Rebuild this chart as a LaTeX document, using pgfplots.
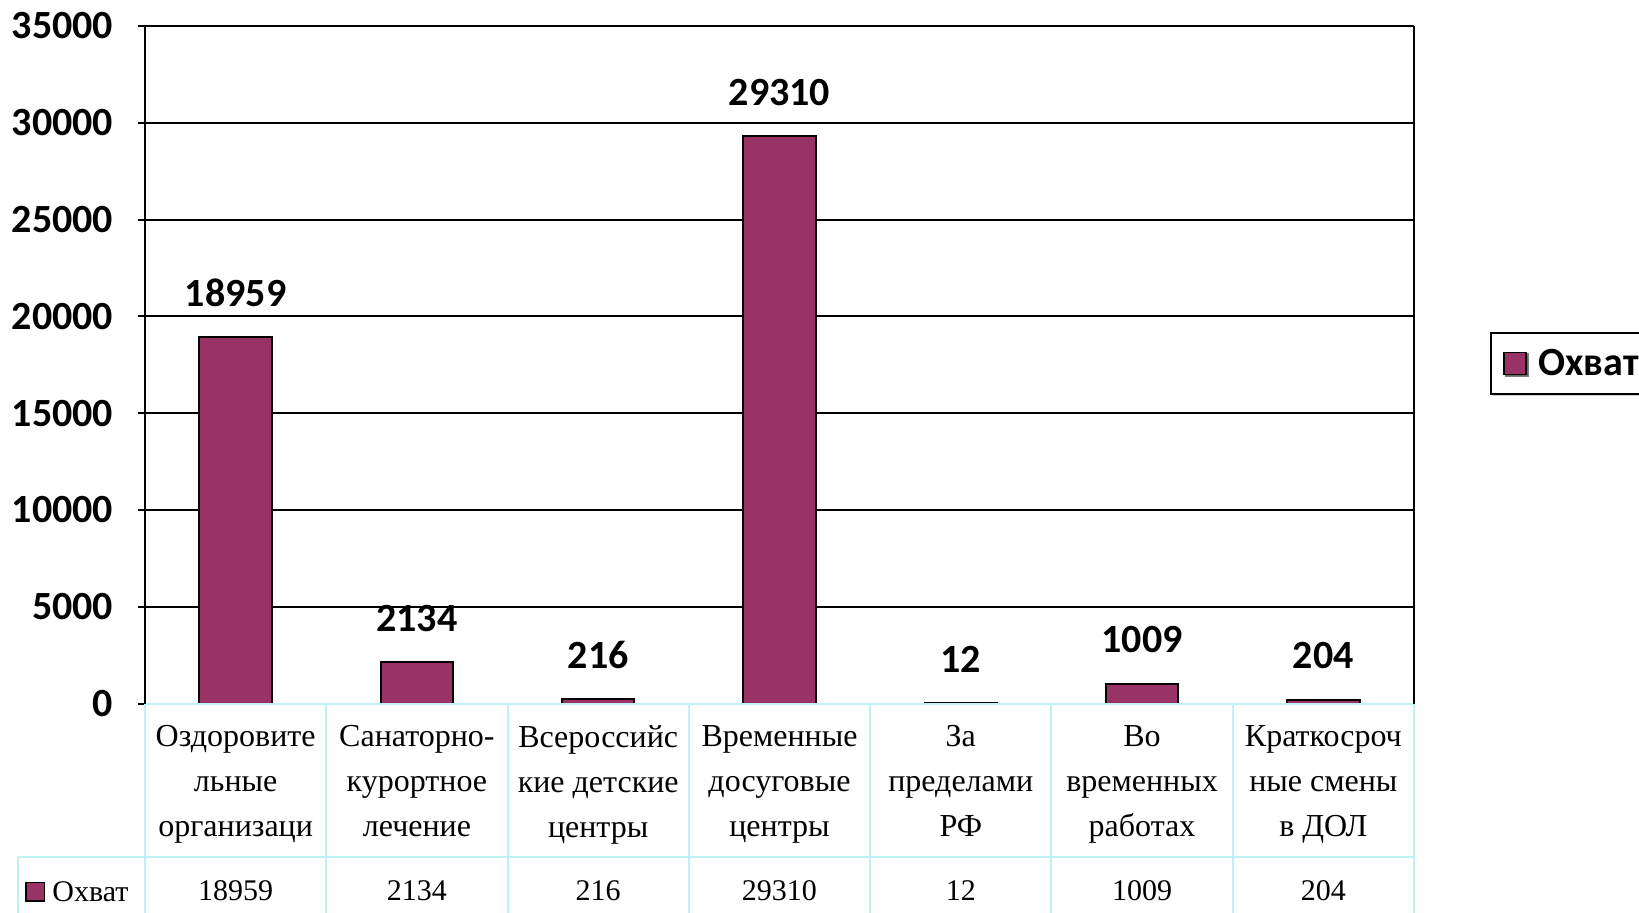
\documentclass[border=0pt]{standalone}
\usepackage{fontspec}
\setmainfont{Liberation Serif}
\newfontfamily\carlito{Carlito}
\usepackage{pgfplots}
\pgfplotsset{compat=1.18}
\usepackage{pgfplotstable}
\usetikzlibrary{shadows}
\definecolor{plum}{HTML}{993366}
\definecolor{tline}{HTML}{BFF3F3}

\pgfplotstableread{
x v
0 18959
1 2134
2 216
3 29310
4 12
5 1009
6 204
}\okhvat

\begin{document}
\begin{tikzpicture}
\begin{axis}[
  at={(0,0)}, anchor=south west, scale only axis,
  width=634.5pt, height=338.75pt,
  xmin=-0.5, xmax=6.5, ymin=0, ymax=35000,
  ytick={0,5000,...,35000},
  scaled y ticks=false,
  /pgf/number format/1000 sep={},
  /pgf/number format/assume math mode=true,
  xtick={0,...,6},
  xticklabels={Оздоровите\\льные\\организаци, Санаторно-\\курортное\\лечение, Всероссийс\\кие детские\\центры, Временные\\досуговые\\центры, За\\пределами\\РФ, Во\\временных\\работах, Краткосроч\\ные смены\\в ДОЛ},
  xticklabel style={align=center, anchor=north, inner sep=0pt, yshift=-7pt,
    font=\fontsize{16}{22.5}\selectfont},
  x tick style={draw=none},
  ytick pos=left,
  yticklabel style={anchor=east, inner sep=0pt, xshift=-12pt,
    font=\carlito\bfseries\fontsize{20}{24}\selectfont},
  y tick style={black, line width=1pt},
  tick align=outside, major tick length=3.7pt,
  ymajorgrids, grid style={black, line width=1pt},
  axis line style={draw=none},
  clip=false,
  legend style={at={(1.06,0.502)}, anchor=west, draw=black, line width=0.8pt,
    font=\carlito\bfseries\fontsize{20}{24}\selectfont,
    inner xsep=6pt, inner ysep=6pt,
    drop shadow={shadow xshift=1pt, shadow yshift=-1pt, fill=gray!70}},
  legend image code/.code={\draw[fill=plum, draw=black, line width=0.8pt] (0pt,-5.5pt) rectangle (11pt,5.5pt);},
]
\addplot[ybar, bar width=0.4, fill=plum, draw=black, line width=1pt,
  nodes near coords, point meta=explicit,
  every node near coord/.append style={anchor=center, yshift=22pt, black,
    font=\carlito\bfseries\fontsize{20}{24}\selectfont}]
  table[x=x, y=v, meta=v] {\okhvat};
\addlegendentry{\hspace{4pt}Охват}
\addplot[draw=none, forget plot, nodes near coords, point meta=explicit,
  every node near coord/.append style={anchor=center, yshift=-93.5pt, black,
    font=\fontsize{15}{18}\selectfont}]
  table[x=x, y expr=0, meta=v] {\okhvat};
\end{axis}
% data table grid
\begin{scope}[tline, line width=1pt]
  \draw (0,0) -- (634.5pt,0);
  \foreach \i in {1,...,7} \draw ({90.643*\i pt},0) -- ({90.643*\i pt},-110pt);
  \draw (0,0) -- (0,-110pt);
  \draw (-63.6pt,-76.75pt) -- (634.5pt,-76.75pt);
  \draw (-63.6pt,-76.75pt) -- (-63.6pt,-110pt);
\end{scope}
\draw[black, line width=1pt] (0,0) -- (0,338.75pt);
\draw[black, line width=1pt] (634.5pt,0) -- (634.5pt,338.75pt);
\draw[fill=plum, draw=black, line width=0.6pt] (-59.5pt,-98.7pt) rectangle (-50.1pt,-89.3pt);
\node[anchor=west, inner sep=0pt, font=\fontsize{15}{18}\selectfont] at (-46.5pt,-94pt) {Охват};
\pgfresetboundingbox
\useasboundingbox (-72.5pt,-104.25pt) rectangle (747pt,351.75pt);
\end{tikzpicture}
\end{document}
